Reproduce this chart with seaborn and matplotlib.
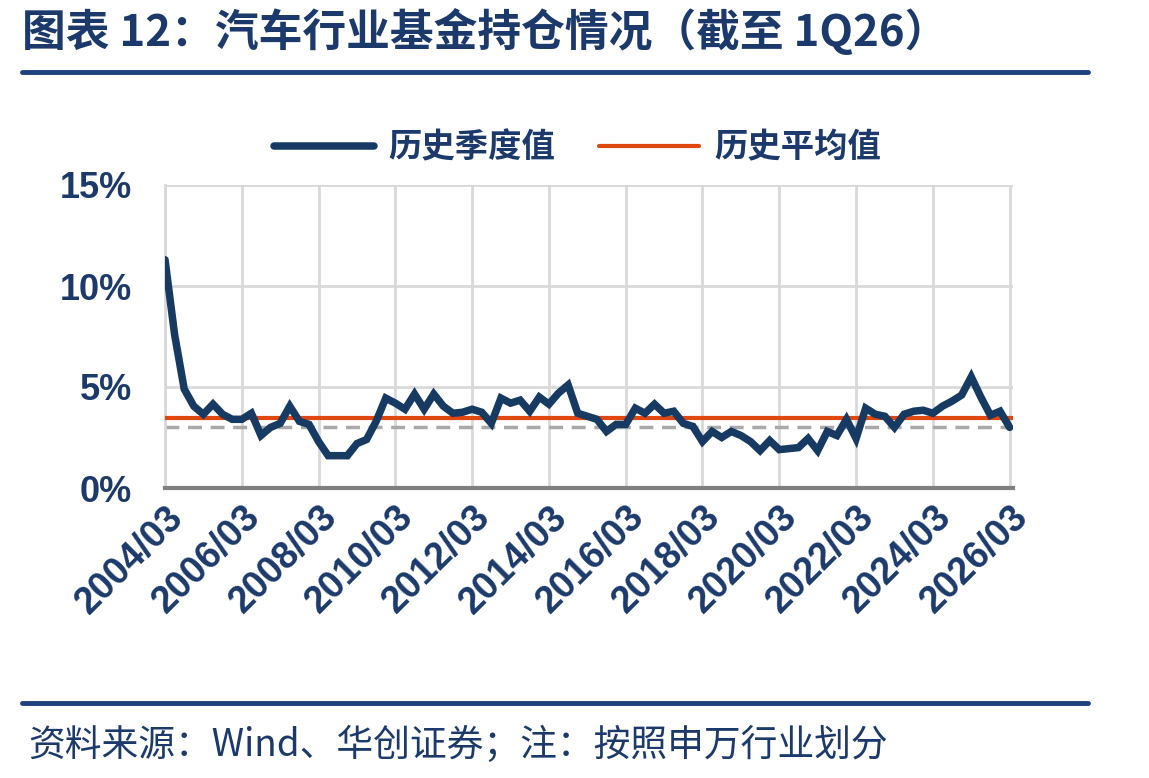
import numpy as np
import pandas as pd
import matplotlib
matplotlib.use("Agg")
import matplotlib.pyplot as plt
import seaborn as sns

# Chart data: quarterly share of auto-sector holdings in funds (%), 2004Q1 .. 2026Q1
quarters = [f"{y}/{m:02d}" for y in range(2004, 2027) for m in (3, 6, 9, 12)][:89]
holding_pct = [
    11.3, 7.6, 4.9, 4.05,
    3.65, 4.15, 3.65, 3.4,
    3.4, 3.7, 2.6, 3.0,
    3.2, 4.05, 3.3, 3.15,
    2.3, 1.6, 1.6, 1.6,
    2.2, 2.4, 3.3, 4.45,
    4.2, 3.9, 4.65, 3.9,
    4.65, 4.05, 3.7, 3.75,
    3.9, 3.75, 3.2, 4.45,
    4.2, 4.35, 3.8, 4.5,
    4.15, 4.7, 5.1, 3.7,
    3.55, 3.4, 2.8, 3.15,
    3.15, 3.95, 3.7, 4.15,
    3.7, 3.8, 3.2, 3.05,
    2.3, 2.8, 2.5, 2.8,
    2.6, 2.3, 1.85, 2.35,
    1.9, 1.95, 2.0, 2.45,
    1.85, 2.8, 2.6, 3.4,
    2.45, 3.95, 3.65, 3.55,
    3.0, 3.65, 3.8, 3.85,
    3.7, 4.05, 4.3, 4.6,
    5.5, 4.5, 3.6, 3.8,
    3.0,
]
hist_mean = 3.47      # 历史平均值
latest_level = 3.0    # grey dashed reference
yticks = [0, 5, 10, 15]
ytick_labels = ["0%", "5%", "10%", "15%"]

NAVY = "#173a63"
ORANGE = "#e0480f"
TEXT = "#1b3a6b"
RULE = "#1f3f7d"

sns.set_theme(style="white")
plt.rcParams["font.family"] = ["Liberation Sans", "Noto Sans CJK SC", "DejaVu Sans"]
cjk = ["Noto Sans CJK SC", "Liberation Sans", "DejaVu Sans"]

df = pd.DataFrame({"idx": np.arange(len(holding_pct)), "value": holding_pct})

fig = plt.figure(figsize=(11.49, 7.78), dpi=100)
ax = fig.add_axes([165 / 1149, 1 - 488 / 778, 848 / 1149, 303 / 778])

sns.lineplot(data=df, x="idx", y="value", ax=ax, color=NAVY, linewidth=5.4,
             label="历史季度值", solid_joinstyle="miter", zorder=4)
ax.axhline(hist_mean, color=ORANGE, linewidth=3, label="历史平均值", zorder=3)
ax.axhline(latest_level, color="#a9a9a9", linewidth=2.5, linestyle=(0, (4, 2.5)), zorder=2)

ax.set_xlim(0, 88.35)
ax.set_ylim(0, 15)
xt = list(range(0, 89, 8))
ax.set_xticks(xt)
ax.set_xticklabels([quarters[i] for i in xt], rotation=45, ha="right",
                   rotation_mode="anchor", fontsize=27, fontweight="bold", color=TEXT)
ax.set_yticks(yticks)
ax.set_yticklabels(ytick_labels, fontsize=26, fontweight="bold", color=TEXT)
ax.tick_params(axis="x", length=0, pad=8)
ax.tick_params(axis="y", length=0, pad=24)
ax.set_xlabel("")
ax.set_ylabel("")

ax.grid(True, color="#d9d9d9", linewidth=2)
for s in ["top", "right"]:
    ax.spines[s].set_visible(False)
ax.spines["left"].set_color("#d9d9d9")
ax.spines["left"].set_linewidth(2)
ax.spines["bottom"].set_color("#808080")
ax.spines["bottom"].set_linewidth(3)

leg = ax.legend(loc="center", bbox_to_anchor=(0.486, 1 + 37 / 303), ncol=2, frameon=False,
                handlelength=3.0, columnspacing=1.3, handletextpad=0.45,
                prop={"family": cjk, "weight": "bold", "size": 24})
for t in leg.get_texts():
    t.set_color(TEXT)

# title, rules and source note
fig.text(22 / 1149, 1 - 32 / 778, "图表 12：汽车行业基金持仓情况（截至 1Q26）", family=cjk,
         fontsize=31.5, fontweight="bold", color=TEXT, va="center", ha="left")
fig.add_artist(plt.Line2D([22 / 1149, 1088 / 1149], [1 - 72 / 778] * 2, color=RULE, linewidth=3.5))
fig.add_artist(plt.Line2D([22 / 1149, 1088 / 1149], [1 - 703 / 778] * 2, color=RULE, linewidth=3.5))
fig.text(28 / 1149, 1 - 745 / 778, "资料来源：Wind、华创证券；注：按照申万行业划分", family=cjk,
         fontsize=26.5, color=TEXT, va="center", ha="left", style="italic")

fig.savefig("out.png", dpi=100)
